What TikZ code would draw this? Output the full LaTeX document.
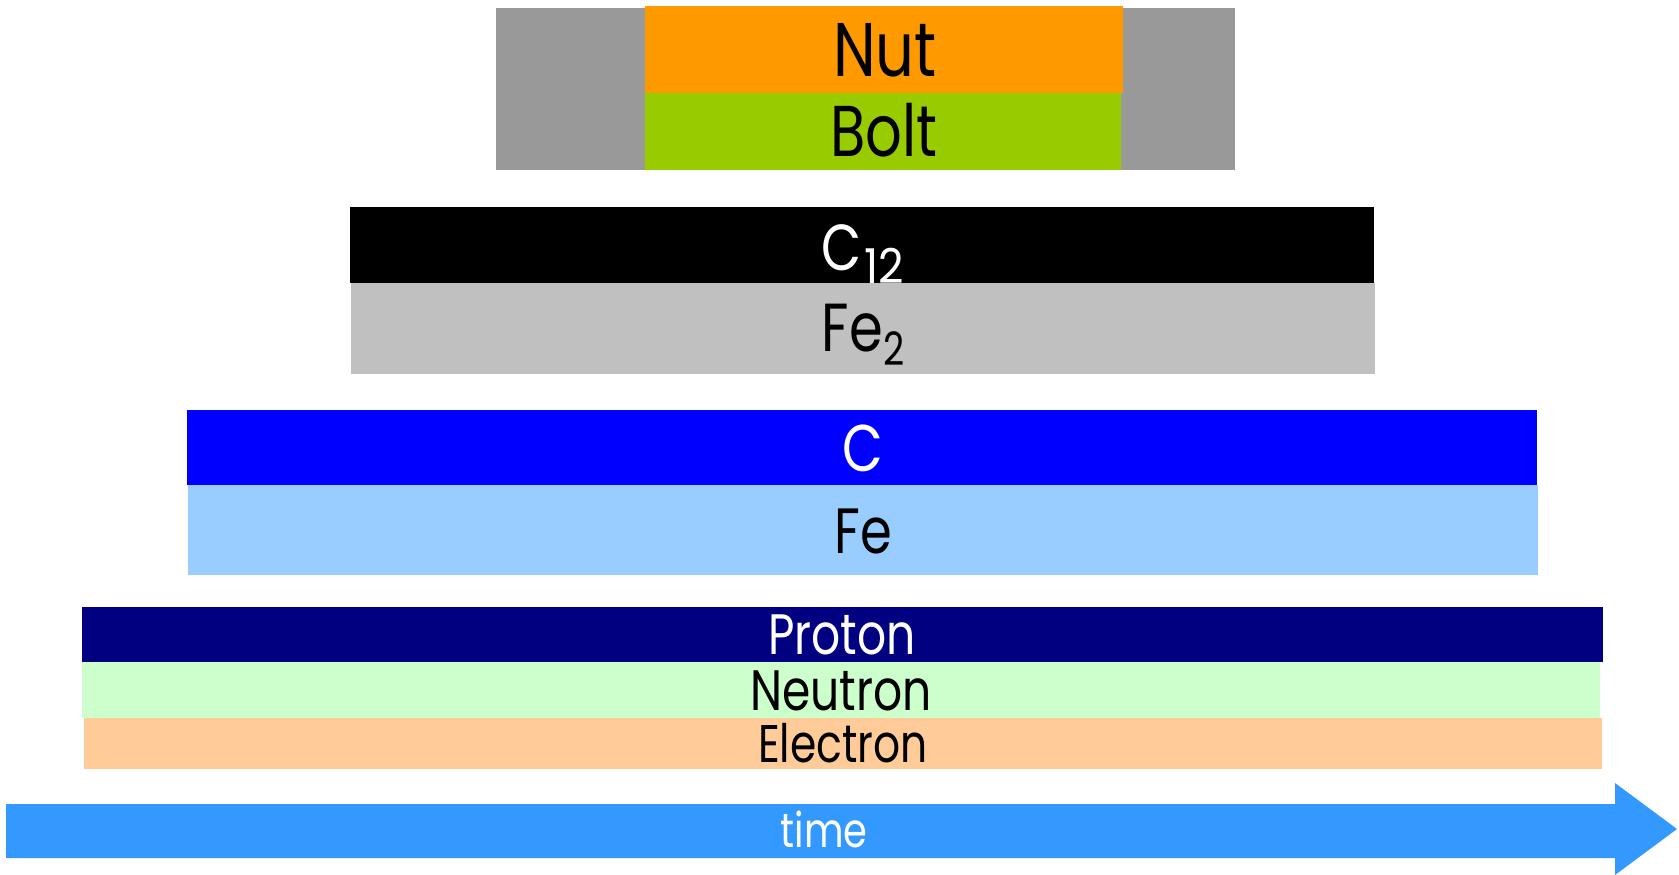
\documentclass[tikz,border=0pt]{standalone}
\usepackage{fontspec}
\usepackage{graphicx}
\setmainfont{Poppins}
\definecolor{nutc}{HTML}{FF9900}
\definecolor{boltc}{HTML}{99CC00}
\definecolor{greyc}{HTML}{999999}
\definecolor{fetwo}{HTML}{C0C0C0}
\definecolor{cblue}{HTML}{0000FF}
\definecolor{febl}{HTML}{99CCFF}
\definecolor{navyc}{HTML}{000080}
\definecolor{neuc}{HTML}{CCFFCC}
\definecolor{elec}{HTML}{FFCC99}
\definecolor{timec}{HTML}{3399FF}
\newcommand\fsz[1]{\fontsize{#1}{#1}\selectfont}
\newcommand\sq[1]{\scalebox{0.8}[1]{#1}}
\begin{document}
\begin{tikzpicture}[x=1pt,y=-1pt,
  lbl/.style={anchor=base,inner sep=0pt,outer sep=0pt}]
\useasboundingbox (0,0) rectangle (1679,875);
% top block
\fill[greyc] (496,8.5) rectangle (1235,170);
\fill[nutc] (645,6.5) rectangle (1123,93);
\fill[boltc] (645,93) rectangle (1121,170);
% C12 / Fe2
\fill[black] (350,207) rectangle (1374,283);
\fill[fetwo] (351,283) rectangle (1375,374);
% C / Fe
\fill[cblue] (187,410) rectangle (1537,485);
\fill[febl] (188,485) rectangle (1538,575);
% Proton / Neutron / Electron
\fill[navyc] (82,607) rectangle (1603,662);
\fill[neuc] (82,662) rectangle (1600,718);
\fill[elec] (84,718) rectangle (1602,769);
% time arrow
\fill[timec] (6,804) -- (1615,804) -- (1615,783) -- (1677,829) -- (1615,875) -- (1615,858) -- (6,858) -- cycle;
% labels
\node[lbl] (nut) at (885,77) {\fsz{76}\sq{Nut}};
\node[lbl] (bolt) at (884,156) {\fsz{72}\sq{Bolt}};
\node[lbl,text=white] (c12) at (863,270) {\fsz{65}\sq{C}\hspace{3pt}\raisebox{-13pt}{\fsz{48}\scalebox{0.92}[1]{12}}};
\node[lbl] (fe2) at (863,351) {\fsz{68}\sq{Fe\raisebox{-14pt}{\fsz{46}2}}};
\node[lbl,text=white] (c) at (863,471) {\fsz{66}\sq{C}};
\node[lbl] (fe) at (863,553) {\fsz{64}\sq{Fe}};
\node[lbl,text=white] (proton) at (842,654) {\fsz{57}\sq{Proton}};
\node[lbl] (neutron) at (841,710) {\fsz{57}\sq{Neutron}};
\node[lbl] (electron) at (843,762) {\fsz{53}\sq{Electron}};
\node[lbl,text=white] (time) at (824,847) {\fsz{48}\sq{time}};
\end{tikzpicture}
\end{document}
